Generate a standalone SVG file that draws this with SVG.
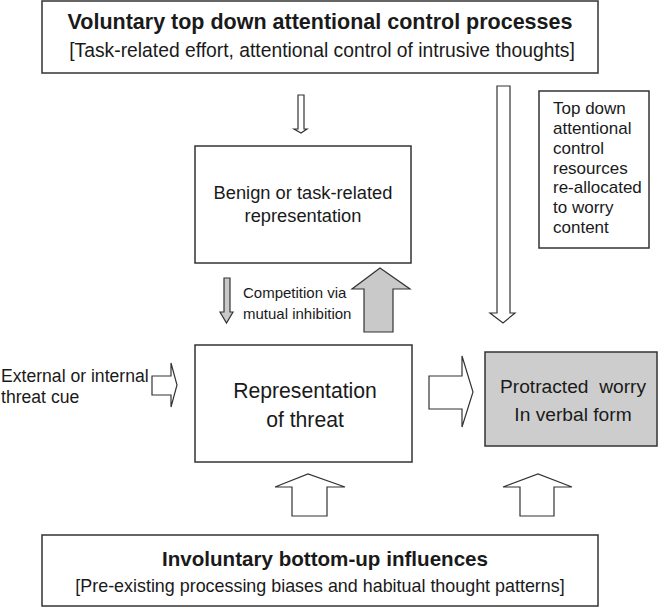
<svg xmlns="http://www.w3.org/2000/svg" width="658" height="608" viewBox="0 0 658 608">
<style>
.box{fill:#fff;stroke:#333;stroke-width:1.5}
.gbox{fill:#cdcdcd;stroke:#333;stroke-width:1.5}
.arr{fill:#fff;stroke:#333;stroke-width:1.2;stroke-linejoin:miter}
.garr{fill:#c9c9c9;stroke:#333;stroke-width:1.2}
text{font-family:"Liberation Sans",Arial,sans-serif;fill:#1a1a1a}
.b{font-weight:bold}
.c{text-anchor:middle}
</style>
<rect width="658" height="608" fill="#fff"/>
<g id="top">
<rect class="box" x="42" y="1" width="556" height="72"/>
<text class="b c" x="320" y="29" font-size="21.5">Voluntary top down attentional control processes</text>
<text class="c" x="322" y="57" font-size="19.3">[Task-related effort, attentional control of intrusive thoughts]</text>
</g>
<g id="benign">
<rect class="box" x="195" y="146" width="216" height="117"/>
<text class="c" x="303" y="199" font-size="18.3">Benign or task-related</text>
<text class="c" x="303" y="222" font-size="18.3">representation</text>
</g>
<g id="threat">
<rect class="box" x="195" y="345" width="217" height="117"/>
<text class="c" x="305" y="398" font-size="21.2">Representation</text>
<text class="c" x="305" y="427" font-size="21.2">of threat</text>
</g>
<g id="worry">
<rect class="gbox" x="485" y="352" width="172" height="94"/>
<text class="c" x="573" y="393" font-size="19.2" style="white-space:pre">Protracted  worry</text>
<text class="c" x="573" y="421" font-size="19.2">In verbal form</text>
</g>
<g id="resources">
<rect class="box" x="539" y="91" width="110" height="157"/>
<text x="553" y="114" font-size="17">Top down</text>
<text x="553" y="134" font-size="17">attentional</text>
<text x="553" y="154" font-size="17">control</text>
<text x="553" y="174" font-size="17">resources</text>
<text x="553" y="193" font-size="17">re-allocated</text>
<text x="553" y="213" font-size="17">to worry</text>
<text x="553" y="233" font-size="17">content</text>
</g>
<g id="bottom">
<rect class="box" x="42" y="535" width="556" height="71"/>
<text class="b c" x="325" y="566" font-size="20.6">Involuntary bottom-up influences</text>
<text class="c" x="320" y="592" font-size="17.9">[Pre-existing processing biases and habitual thought patterns]</text>
</g>
<g id="cue">
<text x="1" y="382" font-size="17.6">External or internal</text>
<text x="1" y="403" font-size="17.6">threat cue</text>
</g>
<g id="competition">
<text x="243" y="298" font-size="15">Competition via</text>
<text x="243" y="319" font-size="15">mutual inhibition</text>
</g>
<g id="connectors">
<polygon class="arr" points="298,95 304,95 304,129 307,129 301,133 294,129 298,129"/>
<polygon class="garr" points="224,278 230,278 230,312 233,312 226.5,323 220,312 224,312"/>
<polygon class="garr" points="364,332 364,289 352,289 380,268 410,289 393,289 393,332"/>
<polygon class="arr" points="497,86 510,86 510,313 515,313 503,323 490,313 497,313"/>
<polygon class="arr" points="152,376 171,376 171,363 177,385 171,407 171,395 152,395"/>
<polygon class="arr" points="429,376 462,376 462,356 473,392 462,427 462,409 429,409"/>
<polygon class="arr" points="292,516 292,487 275,487 308,474 345,487 327,487 327,516"/>
<polygon class="arr" points="520,516 520,487 503,487 538,474 572,487 554,487 554,516"/>
</g>
</svg>
